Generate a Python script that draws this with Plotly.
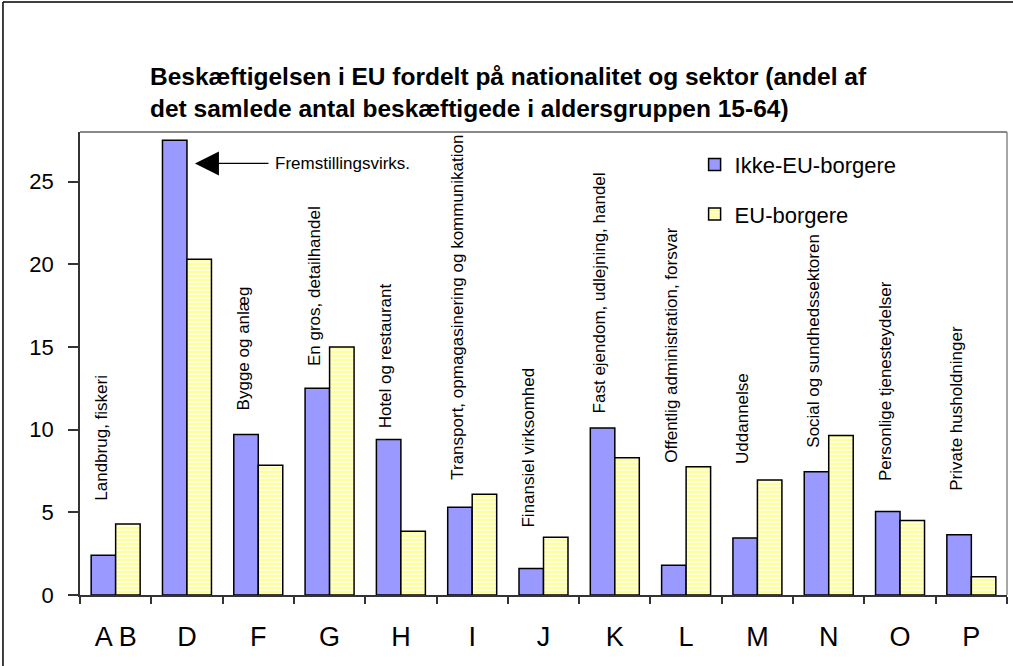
import plotly.graph_objects as go

categories = ["A B", "D", "F", "G", "H", "I", "J", "K", "L", "M", "N", "O", "P"]
ikke_eu = [2.4, 27.5, 9.7, 12.5, 9.4, 5.3, 1.6, 10.1, 1.8, 3.45, 7.45, 5.05, 3.65]
eu = [4.3, 20.3, 7.85, 15.0, 3.85, 6.1, 3.5, 8.3, 7.75, 6.95, 9.65, 4.5, 1.1]
sector_labels = [
    "Landbrug, fiskeri", None, "Bygge og anlæg", "En gros, detailhandel",
    "Hotel og restaurant", "Transport, opmagasinering og kommunikation",
    "Finansiel virksomhed", "Fast ejendom, udlejning, handel",
    "Offentlig administration, forsvar", "Uddannelse",
    "Social og sundhedssektoren", "Personlige tjenesteydelser",
    "Private husholdninger",
]
# layout: bottom position (in axis units) of each rotated sector label
label_bottom = [5.56, None, 11.06, 13.7, 9.98, 6.83, 3.93, 10.88, 7.86, 7.8, 8.77, 6.77, 6.17]
title_text = ("Beskæftigelsen i EU fordelt på nationalitet og sektor (andel af<br>"
              "det samlede antal beskæftigede i aldersgruppen 15-64)")
series_names = ["Ikke-EU-borgere", "EU-borgere"]

FONT = "Liberation Sans, Arial, sans-serif"

fig = go.Figure()
fig.add_trace(go.Bar(
    x=categories, y=ikke_eu, name=series_names[0], legendgroup="a",
    marker=dict(color="#9999FF", line=dict(color="#000000", width=1.5)),
))
fig.add_trace(go.Bar(
    x=categories, y=eu, name=series_names[1], legendgroup="b",
    marker=dict(color="#FFFF99", line=dict(color="#000000", width=1.5),
                pattern=dict(shape="-", bgcolor="#FFFF99", fgcolor="#FFFFDD",
                             size=4, solidity=0.5, fillmode="replace")),
))

annotations = []
for cat, lab, yb in zip(categories, sector_labels, label_bottom):
    if lab is None:
        continue
    annotations.append(dict(
        x=cat, y=yb, xref="x", yref="y", text=lab, textangle=-90,
        showarrow=False, xanchor="center", yanchor="bottom", xshift=-15,
        font=dict(family=FONT, size=17, color="#000000"),
    ))

# arrow pointing at D
annotations.append(dict(
    x="D", y=26.1, xref="x", yref="y", xshift=8,
    ax=75, ay=0, axref="pixel", ayref="pixel",
    text="", showarrow=True, arrowhead=2, arrowsize=4, arrowwidth=1.2,
    arrowcolor="#000000",
))
annotations.append(dict(
    x="D", y=26.1, xref="x", yref="y", xshift=86,
    text="Fremstillingsvirks.", showarrow=False, xanchor="left", yanchor="middle",
    font=dict(family=FONT, size=17, color="#000000"),
))
annotations.append(dict(
    x=0.0734, y=1.0853, xref="paper", yref="paper", text=title_text,
    showarrow=False, xanchor="left", yanchor="middle", align="left",
    font=dict(family=FONT, size=24.5, color="#000000", weight="bold"),
))

shapes = [
    # plot area top and right border (gray)
    dict(type="line", xref="paper", yref="paper", x0=0, x1=1, y0=1, y1=1,
         line=dict(color="#888888", width=2)),
    dict(type="line", xref="paper", yref="paper", x0=1, x1=1, y0=0, y1=1,
         line=dict(color="#888888", width=1.5)),
    # outer chart frame (left and top edges)
    dict(type="line", xref="paper", yref="paper", x0=-0.0831, x1=1.02, y0=1.2808, y1=1.2808,
         line=dict(color="#000000", width=1.5)),
    dict(type="line", xref="paper", yref="paper", x0=-0.0831, x1=-0.0831, y0=-0.16, y1=1.2808,
         line=dict(color="#000000", width=1.5)),
]

fig.update_layout(
    width=1013, height=666,
    margin=dict(l=80, r=6, t=132, b=71, pad=0),
    paper_bgcolor="#FFFFFF", plot_bgcolor="#FFFFFF",
    barmode="group", bargap=0.313, bargroupgap=0,
    font=dict(family=FONT, color="#000000"),
    showlegend=True,
    legend=dict(x=0.663, y=0.975, xanchor="left", yanchor="top",
                font=dict(family=FONT, size=22, color="#000000"),
                bgcolor="rgba(0,0,0,0)", tracegroupgap=18, traceorder="grouped",
                itemwidth=30),
    annotations=annotations,
    shapes=shapes,
)
fig.update_xaxes(
    type="category", tickson="boundaries", ticks="outside", ticklen=7,
    tickcolor="#333333", tickwidth=1.5, showline=True, linecolor="#333333", linewidth=1.5,
    showgrid=False, tickfont=dict(family=FONT, size=27, color="#000000"),
    ticklabelstandoff=17,
)
fig.update_yaxes(
    range=[0, 28], tickvals=[0, 5, 10, 15, 20, 25], ticks="outside", ticklen=10,
    tickcolor="#333333", tickwidth=1.5, showline=True, linecolor="#333333", linewidth=1.5,
    showgrid=False, zeroline=False, tickfont=dict(family=FONT, size=22, color="#000000"),
    ticklabelstandoff=10,
)

fig.write_html("out.html", config={"displayModeBar": False},
               post_script="document.body.style.margin='0';document.body.style.padding='0';")
